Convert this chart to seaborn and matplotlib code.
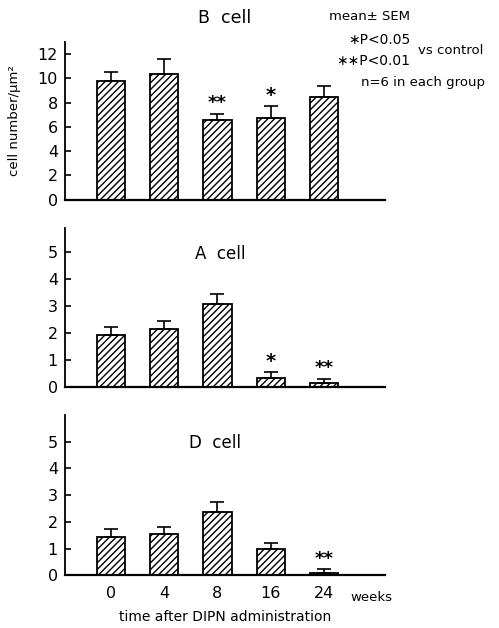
import matplotlib
matplotlib.use("Agg")
import matplotlib.pyplot as plt
import seaborn as sns
import numpy as np
import pandas as pd

weeks = ["0", "4", "8", "16", "24"]
b_mean = [9.8, 10.4, 6.6, 6.7, 8.5]
b_sem = [0.75, 1.2, 0.5, 1.0, 0.85]
b_sig = ["", "", "**", "*", ""]
a_mean = [1.93, 2.14, 3.09, 0.34, 0.13]
a_sem = [0.31, 0.31, 0.37, 0.20, 0.16]
a_sig = ["", "", "", "*", "**"]
d_mean = [1.45, 1.54, 2.38, 0.98, 0.07]
d_sem = [0.27, 0.28, 0.37, 0.24, 0.15]
d_sig = ["", "", "", "", "**"]

sns.set_style("ticks")
plt.rcParams["font.family"] = ["DejaVu Sans"]
plt.rcParams["hatch.linewidth"] = 1.0
for k in ["text.color", "axes.labelcolor", "xtick.color", "ytick.color", "axes.edgecolor"]:
    plt.rcParams[k] = "black"

fig = plt.figure(figsize=(4.99, 6.28), dpi=100)

panels = [
    ("B  cell", b_mean, b_sem, b_sig, [0.130, 0.682, 0.642, 0.251], 13.0, [0, 2, 4, 6, 8, 10, 12]),
    ("A  cell", a_mean, a_sem, a_sig, [0.130, 0.384, 0.642, 0.253], 5.9, [0, 1, 2, 3, 4, 5]),
    ("D  cell", d_mean, d_sem, d_sig, [0.130, 0.084, 0.642, 0.255], 6.0, [0, 1, 2, 3, 4, 5]),
]

for idx, (title, mean, sem, sig, pos, ytop, yt) in enumerate(panels):
    ax = fig.add_axes(pos)
    df = pd.DataFrame({"week": weeks, "value": mean})
    sns.barplot(data=df, x="week", y="value", ax=ax, color="white",
                edgecolor="black", linewidth=1.3, width=0.53, errorbar=None,
                hatch="/////")
    ax.errorbar(np.arange(len(weeks)), mean,
                yerr=[np.zeros(len(sem)), sem], fmt="none",
                ecolor="black", elinewidth=1.2, capsize=5, capthick=1.2)
    for i, s in enumerate(sig):
        if s:
            ax.text(i, mean[i] + sem[i] + ytop * 0.01, s, ha="center", va="bottom",
                    fontsize=14 if len(s) == 1 else 13, fontweight="bold")
    ax.set_xlim(-0.864, 5.15)
    ax.set_ylim(0, ytop)
    ax.set_yticks(yt)
    ax.tick_params(axis="y", direction="in", length=4, width=1.2, labelsize=11.5, pad=5)
    ax.tick_params(axis="x", length=0, labelsize=11.5, pad=8)
    sns.despine(ax=ax)
    ax.spines["left"].set_linewidth(1.3)
    ax.spines["bottom"].set_linewidth(1.6)
    ax.set_xlabel("")
    ax.set_ylabel("")
    if idx < 2:
        ax.set_xticklabels([])
    if idx == 0:
        ax.set_title(title, fontsize=12.5, pad=14)
        ax.set_ylabel("cell number/μm²", fontsize=9.5, labelpad=12)
    else:
        ax.text(2.05 if idx == 1 else 1.95, 4.95, title,
                ha="center", va="center", fontsize=12)
    if idx == 2:
        ax.set_xlabel("time after DIPN administration", fontsize=10, labelpad=6)
        ax.text(4.49, -0.6, "weeks", transform=ax.transData, ha="left", va="top",
                fontsize=9.5, clip_on=False)

fig.text(0.822, 0.973, "mean± SEM", ha="right", va="center", fontsize=9.5)
fig.text(0.822, 0.937, "∗P<0.05", ha="right", va="center", fontsize=10)
fig.text(0.822, 0.903, "∗∗P<0.01", ha="right", va="center", fontsize=10)
fig.text(0.838, 0.919, "vs control", ha="left", va="center", fontsize=9.5)
fig.text(0.972, 0.869, "n=6 in each group", ha="right", va="center", fontsize=9.5)

fig.savefig("out.png", dpi=100)
